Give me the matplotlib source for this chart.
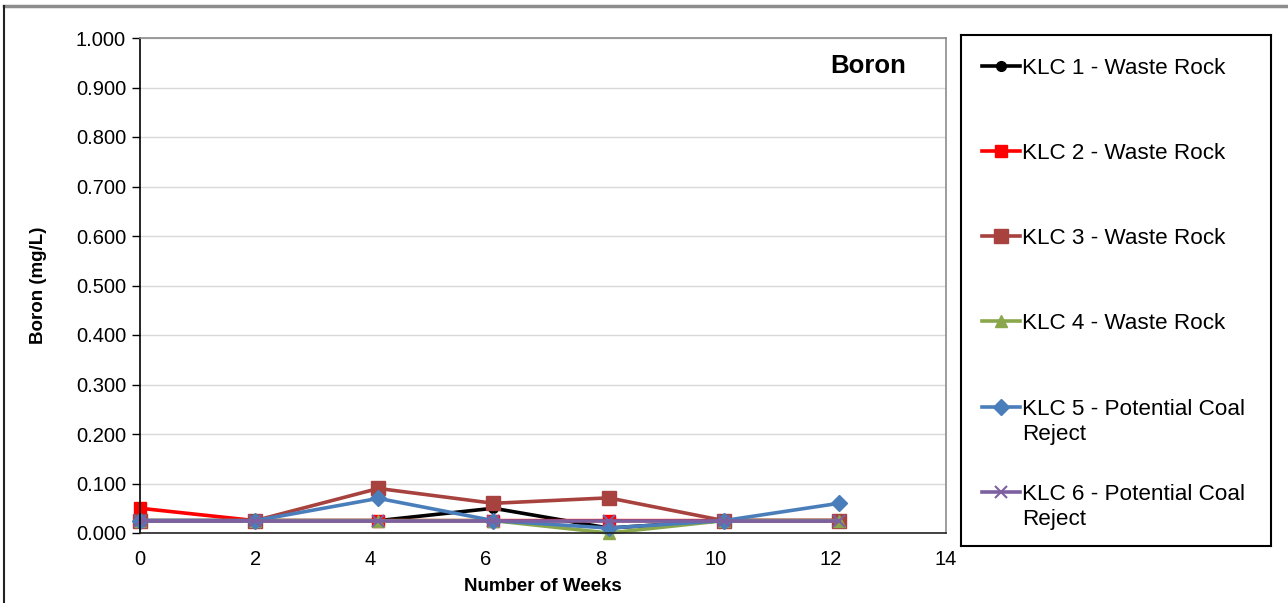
import matplotlib
matplotlib.use("Agg")
import matplotlib.pyplot as plt
from matplotlib.lines import Line2D

plt.rcParams['font.family'] = ['Liberation Sans', 'DejaVu Sans']

# Sampling times (weeks) and boron concentrations (mg/L) for each column test
weeks = [0, 2, 4.14, 6.14, 8.14, 10.14, 12.14]
klc1 = [0.025, 0.025, 0.025, 0.050, 0.010, 0.025, 0.025]
klc2 = [0.050, 0.025, 0.025, 0.025, 0.025, 0.025, 0.025]
klc3 = [0.025, 0.025, 0.090, 0.060, 0.071, 0.025, 0.025]
klc4 = [0.025, 0.025, 0.025, 0.025, 0.000, 0.025, 0.025]
klc5 = [0.025, 0.025, 0.070, 0.025, 0.010, 0.025, 0.060]
klc6 = [0.025, 0.025, 0.025, 0.025, 0.025, 0.025, 0.025]

labels = ["KLC 1 - Waste Rock", "KLC 2 - Waste Rock", "KLC 3 - Waste Rock",
          "KLC 4 - Waste Rock", "KLC 5 - Potential Coal\nReject",
          "KLC 6 - Potential Coal\nReject"]
series = [klc1, klc2, klc3, klc4, klc5, klc6]
colors = ["#000000", "#FF0000", "#A8423F", "#8AA84B", "#4A7EBB", "#7D60A0"]
markers = ["o", "s", "s", "^", "D", "x"]
msizes = [7, 8, 10, 9, 8, 9]

yticks = [0.0, 0.1, 0.2, 0.3, 0.4, 0.5, 0.6, 0.7, 0.8, 0.9, 1.0]
xticks = [0, 2, 4, 6, 8, 10, 12, 14]

W, H = 1288, 603
fig = plt.figure(figsize=(W / 100, H / 100), dpi=100)

# Figure frame (top and left edges)
fig.add_artist(Line2D([4 / W, 1.0], [1 - 6 / H, 1 - 6 / H], transform=fig.transFigure,
                      color="#8c8c8c", lw=2.5))
fig.add_artist(Line2D([4 / W, 4 / W], [0.0, 1 - 6 / H], transform=fig.transFigure,
                      color="#222222", lw=1.5))

ax = fig.add_axes([140 / W, 1 - 533 / H, (946 - 140) / W, (533 - 38) / H])
for ys, lab, c, m, ms in zip(series, labels, colors, markers, msizes):
    ax.plot(weeks, ys, color=c, lw=2.6, marker=m, ms=ms,
            mec=c, mew=1.5 if m == "x" else 1, label=lab, clip_on=False)

ax.set_xlim(0, 14)
ax.set_ylim(0, 1.0)
ax.set_xticks(xticks)
ax.set_yticks(yticks)
ax.set_yticklabels([f"{v:.3f}" for v in yticks])
ax.tick_params(axis='y', length=6, width=1, labelsize=14.5, pad=4, color="#000000")
ax.tick_params(axis='x', length=0, labelsize=14.5, pad=12)
ax.grid(axis='y', color="#d9d9d9", lw=1)
ax.set_axisbelow(True)
ax.spines['left'].set_color("#000000")
ax.spines['bottom'].set_color("#222222")
ax.spines['top'].set_color("#8c8c8c")
ax.spines['right'].set_color("#8c8c8c")
for s in ax.spines.values():
    s.set_linewidth(1.2)

ax.set_xlabel("Number of Weeks", fontsize=13.5, fontweight='bold', labelpad=7)
ax.set_ylabel("Boron (mg/L)", fontsize=13.5, fontweight='bold', labelpad=21)
ax.text(0.950, 0.943, "Boron", transform=ax.transAxes, ha='right', va='center',
        fontsize=18.5, fontweight='bold')

# Legend panel on the right
lax = fig.add_axes([961 / W, 1 - 546 / H, (1271 - 961) / W, (546 - 35) / H])
lax.set_xlim(961, 1271)
lax.set_ylim(546, 35)
lax.set_xticks([])
lax.set_yticks([])
for s in lax.spines.values():
    s.set_color("#000000")
    s.set_linewidth(1.5)
row_y = [66, 151, 236, 321, 407, 492]
for ys, lab, c, m, ms, yy in zip(series, labels, colors, markers, msizes, row_y):
    lax.plot([982, 1020], [yy, yy], color=c, lw=2.6)
    lax.plot([1001], [yy], color=c, marker=m, ms=ms, mec=c,
             mew=1.5 if m == "x" else 1)
    lax.text(1022, yy - 8, lab, ha='left', va='top', fontsize=16.2,
             linespacing=1.27)

fig.savefig("out.png", dpi=100)
